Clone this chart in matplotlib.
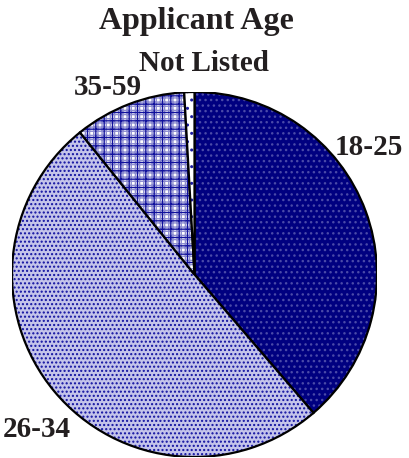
import matplotlib
matplotlib.use("Agg")
import matplotlib.pyplot as plt
from matplotlib.patches import Wedge

# Share of applicants by age group (percent)
categories = ["18-25", "26-34", "35-59", "Not Listed"]
values = [38.7, 50.5, 9.9, 0.9]

# Fill styles per slice: face colour and layered (hatch, colour) patterns
faces = ["#000080", "#c4c4ea", "#ffffff", "#ffffff"]
patterns = [
    [("...", "#4a4aa8")],
    [("....", "#1010a0")],
    [("++++", "#8c8cd0"), ("++", "#10109c")],
    [("..", "#1a1aa0")],
]

W, H, DPI = 409, 458, 100
fig = plt.figure(figsize=(W / DPI, H / DPI), dpi=DPI)
plt.rcParams["hatch.linewidth"] = 1.0

cx, cy, r = 194.5, 274.5, 182.5  # pixel geometry of the pie
ax = fig.add_axes([(cx - r) / W, (H - cy - r) / H, 2 * r / W, 2 * r / H])
ax.set_xlim(-1, 1)
ax.set_ylim(-1, 1)
ax.axis("off")

total = sum(values)
start = 90.0
for val, fc, layers in zip(values, faces, patterns):
    sweep = 360.0 * val / total
    t1, t2 = start - sweep, start
    ax.add_patch(Wedge((0, 0), 1, t1, t2, facecolor=fc, edgecolor="none", lw=0))
    for h, hc in layers:
        ax.add_patch(Wedge((0, 0), 1, t1, t2, fill=False, hatch=h, edgecolor=hc, lw=0))
    ax.add_patch(Wedge((0, 0), 1, t1, t2, fill=False, edgecolor="black", lw=1.6))
    start = t1

tc = "#231f20"
font = dict(family="Liberation Serif", weight="bold", color=tc)


def put(x, y, s, size, ha="center"):
    fig.text(x / W, 1 - y / H, s, fontsize=size, ha=ha, va="baseline", **font)


put(196, 29, "Applicant Age", 23)
put(204, 71, "Not Listed", 21)
put(108, 95, "35-59", 21)
put(369, 155, "18-25", 21)
put(37, 437, "26-34", 21)

fig.savefig("out.png", dpi=DPI)
